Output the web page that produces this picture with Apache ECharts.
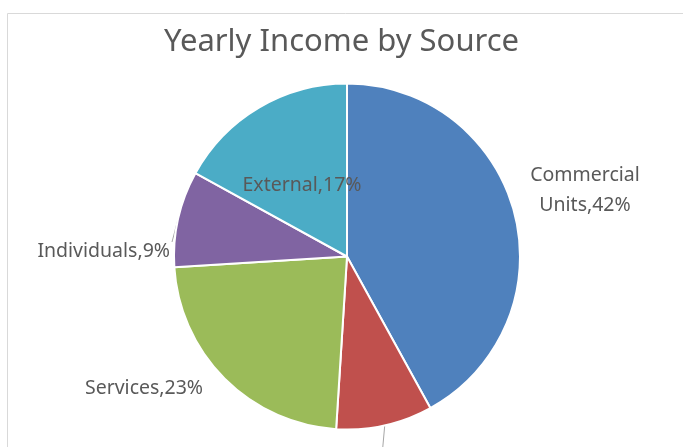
<!DOCTYPE html>
<html><head><meta charset="utf-8">
<script src="https://cdn.jsdelivr.net/npm/echarts@6/dist/echarts.min.js"></script>
<style>html,body{margin:0;padding:0;background:#fff}#c{width:683px;height:447px}</style>
</head><body><div id="c"></div>
<script>
const categories = ["Commercial Units", "Grants", "Services", "Individuals", "External"];
const values = [42, 9, 23, 9, 17];
const colors = ["#4F81BD", "#C0504D", "#9BBB59", "#8064A2", "#4BACC6"];
const titleText = "Yearly Income by Source";

const labelPos = [
  {x: 585, y: 190, align: 'center'},
  {x: 380, y: 470, align: 'center'},
  {x: 144, y: 388, align: 'center'},
  {x: 170, y: 251, align: 'right'},
  {x: 302, y: 185, align: 'center'}
];
const showLine = [false, true, false, true, false];

const chart = echarts.init(document.getElementById('c'));
chart.setOption({
  animation: false,
  title: {text: titleText, left: 'center', top: 22,
    textStyle: {fontFamily: 'Noto Sans', fontSize: 31, fontWeight: 'normal', color: '#595959'}},
  graphic: [{type: 'rect', shape: {x: 7.5, y: 13.5, width: 800, height: 600},
    style: {fill: 'none', stroke: '#d9d9d9', lineWidth: 1}, z: -1}],
  series: [{
    type: 'pie',
    center: [347, 256.5],
    radius: [0, 173],
    startAngle: 90,
    clockwise: true,
    itemStyle: {borderColor: '#fff', borderWidth: 2},
    label: {
      formatter: p => (p.dataIndex === 0 ? 'Commercial\nUnits' : p.name) + ',' + p.value + '%',
      fontFamily: 'Noto Sans', fontSize: 19.5, color: '#595959', lineHeight: 30
    },
    labelLine: {lineStyle: {color: '#a6a6a6', width: 1}, length: 10, length2: 10},
    labelLayout: function (p) {
      const l = labelPos[p.dataIndex];
      const out = {x: l.x, y: l.y, align: l.align, verticalAlign: 'middle'};
      if (showLine[p.dataIndex] && p.labelLinePoints) {
        const s = p.labelLinePoints[0];
        out.labelLinePoints = p.dataIndex === 3
          ? [s, [l.x + 2, l.y - 9]]
          : [s, [s[0] - 4, l.y]];
      }
      return out;
    },
    data: categories.map((n, i) => ({name: n, value: values[i],
      itemStyle: {color: colors[i]}, labelLine: {show: showLine[i]}}))
  }]
});
</script></body></html>
